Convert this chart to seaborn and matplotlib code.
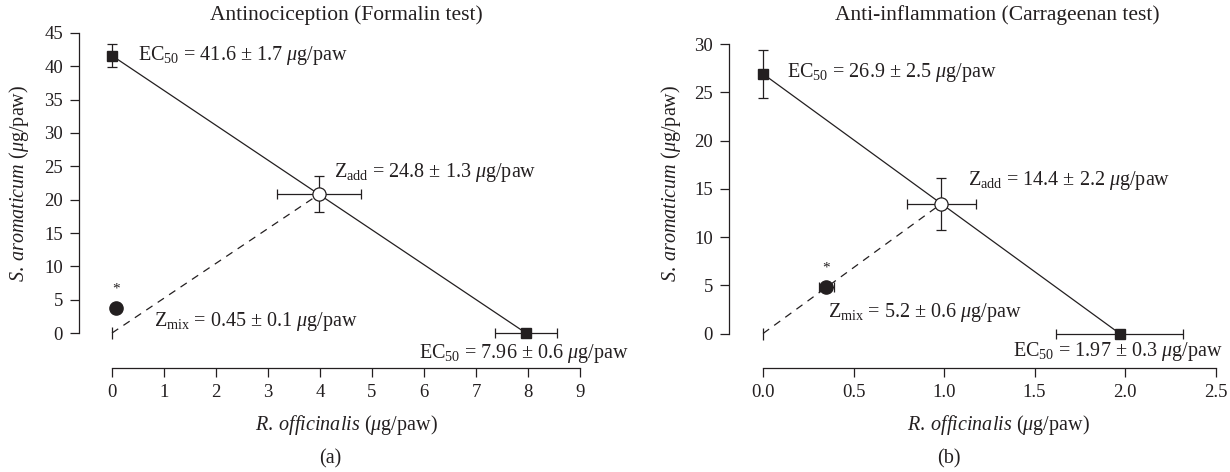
import matplotlib
matplotlib.use("Agg")
import matplotlib.pyplot as plt
import seaborn as sns
import pandas as pd

# ---------------- data ----------------
a_title = "Antinociception (Formalin test)"
a_ec50_x = [0.0, 7.96]          # individual EC50s (S. aromaticum on y, R. officinalis on x)
a_ec50_y = [41.6, 0.0]
a_ec50_xerr = [0.0, 0.6]
a_ec50_yerr = [1.7, 0.0]
a_zadd = [3.98, 20.8]
a_zadd_err = [0.8, 2.7]
a_zmix = [0.07, 3.8]
a_zmix_err = [0.0, 0.0]
a_xticks = [0, 1, 2, 3, 4, 5, 6, 7, 8, 9]
a_yticks = [0, 5, 10, 15, 20, 25, 30, 35, 40, 45]
a_texts = [r"$\mathrm{EC}_{50}$ = 41.6 ± 1.7 $\mathit{μ}$g/paw",
           r"$\mathrm{Z}_{\mathrm{add}}$ = 24.8 ± 1.3 $\mathit{μ}$g/paw",
           r"$\mathrm{Z}_{\mathrm{mix}}$ = 0.45 ± 0.1 $\mathit{μ}$g/paw",
           r"$\mathrm{EC}_{50}$ = 7.96 ± 0.6 $\mathit{μ}$g/paw"]

b_title = "Anti-inflammation (Carrageenan test)"
b_ec50_x = [0.0, 1.97]
b_ec50_y = [26.9, 0.0]
b_ec50_xerr = [0.0, 0.35]
b_ec50_yerr = [2.5, 0.0]
b_zadd = [0.985, 13.45]
b_zadd_err = [0.19, 2.7]
b_zmix = [0.35, 4.85]
b_zmix_err = [0.04, 0.0]
b_xticks = [0.0, 0.5, 1.0, 1.5, 2.0, 2.5]
b_yticks = [0, 5, 10, 15, 20, 25, 30]
b_texts = [r"$\mathrm{EC}_{50}$ = 26.9 ± 2.5 $\mathit{μ}$g/paw",
           r"$\mathrm{Z}_{\mathrm{add}}$ = 14.4 ± 2.2 $\mathit{μ}$g/paw",
           r"$\mathrm{Z}_{\mathrm{mix}}$ = 5.2 ± 0.6 $\mathit{μ}$g/paw",
           r"$\mathrm{EC}_{50}$ = 1.97 ± 0.3 $\mathit{μ}$g/paw"]

origin = [0.0, 0.0]
xlabel = r"$\mathit{R.}\:\mathit{officinalis}$ ($\mathit{μ}$g/paw)"
ylabel = r"$\mathit{S.}\:\mathit{aromaticum}$ ($\mathit{μ}$g/paw)"

# ---------------- style ----------------
sns.set_theme(style="ticks")
plt.rcParams["font.family"] = ["Liberation Serif", "DejaVu Serif"]
plt.rcParams["mathtext.fontset"] = "custom"
plt.rcParams["mathtext.rm"] = "Liberation Serif"
plt.rcParams["mathtext.it"] = "Liberation Serif:italic"
plt.rcParams["mathtext.bf"] = "Liberation Serif:bold"
INK = "#231f20"
FS_TICK = 13.5
FS_TXT = 14.5
FS_LAB = 14.5
FS_TITLE = 15.5

W, H = 1230, 472
fig = plt.figure(figsize=(W / 100, H / 100), dpi=100)


def px_axes(left, top, right, bottom):
    return fig.add_axes([left / W, 1 - bottom / H, (right - left) / W, (bottom - top) / H])


def panel(ax, ec_x, ec_y, ec_xe, ec_ye, zadd, zadd_e, zmix, zmix_e,
          xticks, yticks, xlim, ylim, texts, text_pos, offs, title, title_x):
    ax.set_xlim(*xlim)
    ax.set_ylim(*ylim)
    # isobole (solid) and theoretical additive line (dashed)
    sns.lineplot(x=ec_x, y=ec_y, ax=ax, color=INK, lw=0.9, sort=False,
                 estimator=None, zorder=2)
    sns.lineplot(x=[origin[0], zadd[0]], y=[origin[1], zadd[1]], ax=ax, color=INK,
                 lw=0.9, sort=False, estimator=None, linestyle=(0, (6, 5)), zorder=2)
    ax.plot([origin[0]], [origin[1]], marker="|", ms=9, mew=0.9, color=INK,
            clip_on=False, zorder=3)
    # EC50 points
    ax.errorbar(ec_x, ec_y, xerr=ec_xe, yerr=ec_ye, fmt="s", ms=7, color=INK,
                mfc=INK, mec=INK, ecolor=INK, elinewidth=0.9, capsize=3.6,
                capthick=0.9, zorder=4, clip_on=False)
    # Zadd
    ax.errorbar([zadd[0]], [zadd[1]], xerr=[zadd_e[0]], yerr=[zadd_e[1]], fmt="o",
                ms=9.5, mfc="white", mec=INK, mew=0.9, ecolor=INK, elinewidth=0.9,
                capsize=3.6, capthick=0.9, zorder=4)
    # Zmix
    ax.errorbar([zmix[0]], [zmix[1]], xerr=[zmix_e[0]], yerr=[zmix_e[1]], fmt="o",
                ms=9.5, mfc=INK, mec=INK, ecolor=INK, elinewidth=0.9,
                capsize=3.6, capthick=0.9, zorder=4)
    ax.annotate("*", xy=(zmix[0], zmix[1]), xytext=(0, 9), textcoords="offset points",
                ha="center", va="bottom", fontsize=11, color=INK)
    for t, (tx, ty) in zip(texts, text_pos):
        ax.text(tx, ty, t, ha="left", va="center", fontsize=FS_TXT, color=INK,
                clip_on=False)

    ax.set_xticks(xticks)
    ax.set_yticks(yticks)
    ax.tick_params(direction="out", length=6.5, width=0.9, color=INK,
                   labelsize=FS_TICK, labelcolor=INK, pad=5)
    sns.despine(ax=ax, offset=offs, trim=True)
    for s in ("left", "bottom"):
        ax.spines[s].set_linewidth(0.9)
        ax.spines[s].set_color(INK)
    ax.set_xlabel(xlabel, fontsize=FS_LAB, color=INK)
    ax.set_ylabel(ylabel, fontsize=FS_LAB, color=INK)
    ax.patch.set_visible(False)
    fig.text(title_x / W, 1 - 15 / H, title, ha="center", va="center",
             fontsize=FS_TITLE, color=INK)
    return ax


# Panel (a)
axa = px_axes(101.6, 26.3, 595.6, 359.7)
panel(axa, a_ec50_x, a_ec50_y, a_ec50_xerr, a_ec50_yerr, a_zadd, a_zadd_err,
      a_zmix, a_zmix_err, a_xticks, a_yticks, (-0.2, 9.3), (-4, 46), a_texts,
      [(0.5, 41.6), (4.27, 24.0), (0.8, 1.7), (5.9, -3.0)],
      {"left": 16.3, "bottom": 6.0}, a_title, 346)
axa.xaxis.set_label_coords((346 - 101.6) / 494, (359.7 - 413) / 333.4)
axa.yaxis.set_label_coords((31 - 101.6) / 494, (359.7 - 183) / 333.4)
fig.text(330 / W, 1 - 459 / H, "(a)", ha="center", va="center", fontsize=FS_TXT, color=INK)

# Panel (b)
axb = px_axes(754.0, 34.35, 1224.6, 362.45)
panel(axb, b_ec50_x, b_ec50_y, b_ec50_xerr, b_ec50_yerr, b_zadd, b_zadd_err,
      b_zmix, b_zmix_err, b_xticks, b_yticks, (-0.05, 2.55), (-3, 31), b_texts,
      [(0.13, 27.0), (1.13, 15.9), (0.36, 2.2), (1.38, -1.9)],
      {"left": 18.0, "bottom": 4.0}, b_title, 997)
axb.xaxis.set_label_coords((998 - 754) / 470.6, (362.45 - 413) / 328.1)
axb.yaxis.set_label_coords((683 - 754) / 470.6, (362.45 - 183) / 328.1)
fig.text(949 / W, 1 - 459 / H, "(b)", ha="center", va="center", fontsize=FS_TXT, color=INK)

fig.savefig("out.png", dpi=100)
